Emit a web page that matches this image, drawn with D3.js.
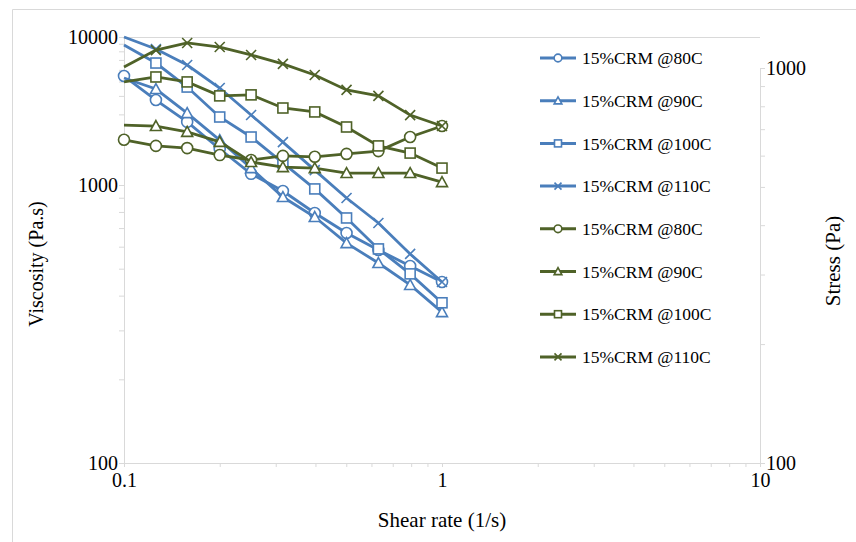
<!DOCTYPE html>
<html>
<head>
<meta charset="utf-8">
<script src="https://cdn.jsdelivr.net/npm/d3@7"></script>
<style>
  body { margin: 0; background: #fff; }
</style>
</head>
<body>
<div id="chart"></div>
<script>
      // shear rates (1/s)
      var shearRate = [0.1, 0.126, 0.158, 0.2, 0.251, 0.316, 0.398, 0.501, 0.631, 0.794, 1.0];

      // viscosity (Pa.s), left axis
      var visc80  = [5450, 3750, 2670, 1750, 1190, 951, 793, 672, 584, 511, 448];
      var visc90  = [5280, 4450, 3060, 2010, 1300, 905, 767, 618, 524, 437, 349];
      var visc100 = [8830, 6670, 4590, 2880, 2110, 1410, 968, 761, 589, 479, 377];
      var visc110 = [10000, 8300, 6470, 4520, 2970, 1950, 1260, 898, 730, 565, 448];

      // stress (Pa), right axis
      var stress80  = [658, 635, 627, 602, 585, 599, 596, 606, 616, 669, 713];
      var stress90  = [717, 713, 689, 650, 578, 561, 558, 542, 542, 542, 514];
      var stress100 = [922, 949, 922, 850, 855, 792, 774, 709, 635, 609, 558];
      var stress110 = [1006, 1110, 1157, 1130, 1079, 1024, 960, 880, 850, 760, 713];

      var labels = ["15%CRM @80C", "15%CRM @90C", "15%CRM @100C", "15%CRM @110C"];
      var shapes = ["circle", "triangle", "square", "cross"];

      var xTicks = [0.1, 1, 10];
      var leftTicks = [100, 1000, 10000];
      var rightTicks = [100, 1000];

      var blue = "#4a7ebb", green = "#4f6228";
      var serif = "'Liberation Serif', 'Times New Roman', serif";

      var width = 856, height = 542;
      var plot = {left: 124, right: 760, top: 37, bottom: 463};

      var svg = d3.select("#chart").append("svg")
          .attr("width", width)
          .attr("height", height)
          .style("font-family", serif);

      // outer chart frame (only left/top edges are inside the picture)
      svg.append("path")
          .attr("d", "M12.5," + height + "V9.5H" + width)
          .attr("fill", "none")
          .attr("stroke", "#d9d9d9");

      ////// Scales /////////
      var xScale = d3.scaleLog().domain([0.1, 10]).range([plot.left, plot.right]);
      // left axis decades are not the same height in the figure
      var yLeft = d3.scaleLog().domain([100, 1000, 10000]).range([plot.bottom, 185, plot.top]);
      var yRight = d3.scaleLog().domain([100, 1000]).range([plot.bottom, 68]);

      function logTicks(lo, hi) {
        var out = [];
        for (var p = lo; p < hi; p *= 10) {
          for (var m = 1; m < 10; m++) out.push(p * m);
        }
        out.push(hi);
        return out;
      }
      function fmt(list) {
        return function(d) {
          return list.some(function(t) { return Math.abs(t - d) / t < 1e-6; }) ? String(d) : "";
        };
      }

      // plot top edge
      svg.append("line")
          .attr("x1", plot.left).attr("x2", plot.right)
          .attr("y1", plot.top + 0.5).attr("y2", plot.top + 0.5)
          .attr("stroke", "#d9d9d9");

      /////// Axes ///////
      var xAxis = svg.append("g")
          .attr("transform", "translate(0," + plot.bottom + ")")
          .call(d3.axisBottom(xScale).tickValues(logTicks(0.1, 10)).tickFormat(fmt(xTicks)).tickSize(4).tickSizeOuter(0));
      xAxis.selectAll("text").attr("y", 5).attr("dy", "0.95em");

      var lAxis = svg.append("g")
          .attr("transform", "translate(" + plot.left + ",0)")
          .call(d3.axisLeft(yLeft).tickValues(logTicks(100, 10000)).tickFormat(fmt(leftTicks)).tickSize(5).tickSizeOuter(0));
      lAxis.selectAll("text").attr("x", -6);

      var rAxis = svg.append("g")
          .attr("transform", "translate(" + plot.right + ",0)")
          .call(d3.axisRight(yRight).tickValues(logTicks(100, 1000)).tickFormat(fmt(rightTicks)).tickSize(5).tickSizeOuter(0));
      rAxis.selectAll("text").attr("x", 6);

      [xAxis, lAxis, rAxis].forEach(function(a) {
        a.attr("font-family", null).attr("font-size", null);
        a.selectAll("path, line").attr("stroke", "#d9d9d9");
        a.selectAll("text").style("font-family", serif).style("font-size", "20px").attr("fill", "#000");
      });

      // axis titles
      function title(t, size) {
        return svg.append("text")
            .attr("text-anchor", "middle")
            .style("font-family", serif)
            .style("font-size", size + "px")
            .text(t);
      }
      title("Shear rate (1/s)", 21).attr("x", 442).attr("y", 527);
      title("Viscosity (Pa.s)", 20).attr("transform", "translate(43,264) rotate(-90)");
      title("Stress (Pa)", 21).attr("transform", "translate(840,261) rotate(-90)");

      ////// Series //////
      var series = [
        {name: labels[0], vals: visc80,  y: yLeft,  color: blue,  shape: shapes[0]},
        {name: labels[1], vals: visc90,  y: yLeft,  color: blue,  shape: shapes[1]},
        {name: labels[2], vals: visc100, y: yLeft,  color: blue,  shape: shapes[2]},
        {name: labels[3], vals: visc110, y: yLeft,  color: blue,  shape: shapes[3]},
        {name: labels[0], vals: stress80,  y: yRight, color: green, shape: shapes[0]},
        {name: labels[1], vals: stress90,  y: yRight, color: green, shape: shapes[1]},
        {name: labels[2], vals: stress100, y: yRight, color: green, shape: shapes[2]},
        {name: labels[3], vals: stress110, y: yRight, color: green, shape: shapes[3]}
      ];

      function drawMarker(g, shape, s, color) {
        if (shape == "circle") {
          g.append("circle").attr("r", s * 0.55);
        } else if (shape == "square") {
          g.append("rect").attr("x", -s / 2).attr("y", -s / 2).attr("width", s).attr("height", s);
        } else if (shape == "triangle") {
          g.append("path").attr("d", "M0," + (-s * 0.55) + "L" + (s * 0.55) + "," + (s * 0.45) + "L" + (-s * 0.55) + "," + (s * 0.45) + "Z");
        } else {
          var h = s * 0.5;
          g.append("path").attr("d", "M" + (-h) + "," + (-h) + "L" + h + "," + h + "M" + (-h) + "," + h + "L" + h + "," + (-h));
        }
        g.selectAll("*")
          .attr("fill", "#fff")
          .attr("stroke", color)
          .attr("stroke-width", 1.6);
      }

      series.forEach(function(s) {
        var line = d3.line()
            .x(function(d, i) { return xScale(shearRate[i]); })
            .y(function(d) { return s.y(d); });

        svg.append("path")
            .datum(s.vals)
            .attr("d", line)
            .attr("fill", "none")
            .attr("stroke", s.color)
            .attr("stroke-width", 2.8);

        s.vals.forEach(function(v, i) {
          // only the circle markers show at the first shear rate
          if (i == 0 && s.shape != "circle") return;
          var g = svg.append("g")
              .attr("transform", "translate(" + xScale(shearRate[i]) + "," + s.y(v) + ")");
          drawMarker(g, s.shape, 10, s.color);
        });
      });

      ////// Legend //////
      var legend = svg.append("g");
      series.forEach(function(s, i) {
        var ly = 58 + i * 42.7;
        var item = legend.append("g").attr("transform", "translate(0," + ly + ")");
        item.append("line")
            .attr("x1", 540).attr("x2", 576)
            .attr("stroke", s.color)
            .attr("stroke-width", 3);
        var m = item.append("g").attr("transform", "translate(558,0)");
        drawMarker(m, s.shape, 7, s.color);
        item.append("text")
            .attr("x", 582)
            .attr("dy", "0.35em")
            .style("font-family", serif)
            .style("font-size", "17.5px")
            .text(s.name);
      });
</script>
</body>
</html>
